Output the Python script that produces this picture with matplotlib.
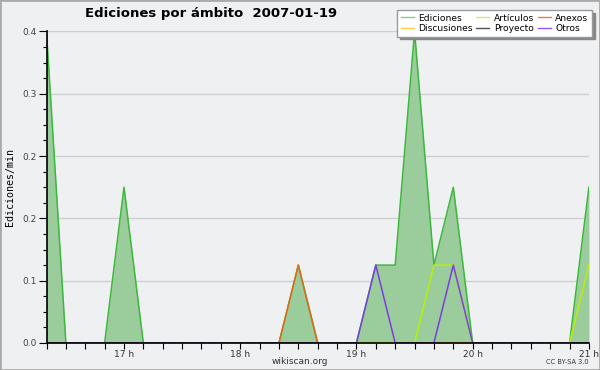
import matplotlib
matplotlib.use("Agg")
import matplotlib.pyplot as plt
from matplotlib.lines import Line2D
from matplotlib.patches import Rectangle
from matplotlib.ticker import MultipleLocator, FixedLocator, FuncFormatter

times = ["16:20", "16:30", "16:40", "16:50", "17:00", "17:10", "17:20", "17:30",
         "17:40", "17:50", "18:00", "18:10", "18:20", "18:30", "18:40", "18:50",
         "19:00", "19:10", "19:20", "19:30", "19:40", "19:50", "20:00", "20:10",
         "20:20", "20:30", "20:40", "20:50", "21:00"]
ediciones = [0.4, 0, 0, 0, 0.2, 0, 0, 0, 0, 0, 0, 0, 0, 0.1, 0, 0,
             0, 0.1, 0.1, 0.4, 0.1, 0.2, 0, 0, 0, 0, 0, 0, 0.2]
articulos = [0, 0, 0, 0, 0, 0, 0, 0, 0, 0, 0, 0, 0, 0, 0, 0,
             0, 0, 0, 0, 0.1, 0.1, 0, 0, 0, 0, 0, 0, 0.1]
anexos = [0, 0, 0, 0, 0, 0, 0, 0, 0, 0, 0, 0, 0, 0.1, 0, 0,
          0, 0, 0, 0, 0, 0, 0, 0, 0, 0, 0, 0, 0]
otros = [0, 0, 0, 0, 0, 0, 0, 0, 0, 0, 0, 0, 0, 0, 0, 0,
         0, 0.1, 0, 0, 0, 0.1, 0, 0, 0, 0, 0, 0, 0]
hour_ticks = [17, 18, 19, 20, 21]
hour_labels = ["17 h", "18 h", "19 h", "20 h", "21 h"]
y_ticks = [0.0, 0.08, 0.16, 0.24, 0.32, 0.4]

x = [int(t[:2]) + int(t[3:]) / 60 for t in times]

bg = "#eff0f2"
fig = plt.figure(figsize=(6, 3.7), dpi=100, facecolor=bg)
ax = fig.add_axes([0.0775, 0.073, 0.904, 0.842], facecolor=bg)

ax.fill_between(x, ediciones, 0, color="#9bcc9b", lw=0, zorder=2)
ax.plot(x, ediciones, color="#3cb83c", lw=1.1, zorder=3)
ax.plot(x, anexos, color="#e8661a", lw=1.1, zorder=4)
ax.plot(x, articulos, color="#b8f000", lw=1.1, zorder=4)
ax.plot(x, otros, color="#7a3ee0", lw=1.1, zorder=5)

ax.set_xlim(x[0], x[-1])
ax.set_ylim(0, 0.4)
ax.xaxis.set_major_locator(FixedLocator(hour_ticks))
ax.set_xticklabels(hour_labels)
ax.xaxis.set_minor_locator(MultipleLocator(1 / 6))
ax.yaxis.set_major_locator(FixedLocator(y_ticks))
ax.yaxis.set_major_formatter(FuncFormatter(lambda v, p: f"{v:.1f}"))
ax.yaxis.set_minor_locator(MultipleLocator(0.02))

ax.tick_params(axis="x", which="both", direction="out", length=4, width=0.8,
               labelsize=6.5, pad=1, colors="black", labelcolor="#333333")
ax.tick_params(axis="y", which="major", direction="out", length=6, width=0.8,
               labelsize=6.5, pad=1, labelcolor="#444444")
ax.tick_params(axis="y", which="minor", direction="out", length=3, width=0.8)
ax.grid(axis="y", which="major", color="#cfcfcf", lw=1, zorder=1)
ax.set_axisbelow(True)
for s in ["top", "right"]:
    ax.spines[s].set_visible(False)
for s in ["left", "bottom"]:
    ax.spines[s].set_linewidth(1.2)
    ax.spines[s].set_zorder(6)

ax.set_ylabel("Ediciones/min", family="DejaVu Sans Mono", fontsize=7.2, labelpad=5)

fig.text(85 / 600, 1 - 13 / 370, "Ediciones por ámbito  2007-01-19",
         fontsize=9.5, fontweight="bold", ha="left", va="center")
fig.text(300 / 600, 1 - 361 / 370, "wikiscan.org", fontsize=6.5, ha="center",
         va="center", color="#333333")
fig.text(589 / 600, 1 - 362 / 370, "CC BY-SA 3.0", fontsize=4.8, ha="right",
         va="center", color="#333333")

names = ["Ediciones", "Discusiones", "Artículos", "Proyecto", "Anexos", "Otros"]
cols = ["#88cc88", "#ffcc44", "#ccee66", "#555555", "#ee7744", "#9955ee"]
handles = [Line2D([], [], color=c, lw=1) for c in cols]
leg = fig.legend(handles, names, ncol=3, loc="upper right",
                 bbox_to_anchor=(592 / 600, 1 - 10 / 370), fontsize=6.6,
                 frameon=True, fancybox=False,
                 shadow={"color": "#888888", "alpha": 1},
                 handlelength=1.4, handletextpad=0.5, columnspacing=0.4,
                 labelspacing=0.15, borderpad=0.4, borderaxespad=0)
leg.get_frame().set_edgecolor("#999999")
leg.get_frame().set_linewidth(1)
leg.get_frame().set_facecolor("white")
leg.set_zorder(10)

fig.patches.append(Rectangle((0, 0), 1, 1, transform=fig.transFigure,
                             fill=False, edgecolor="#aaaaaa", lw=2))

fig.savefig("out.png", dpi=100, facecolor=bg)
